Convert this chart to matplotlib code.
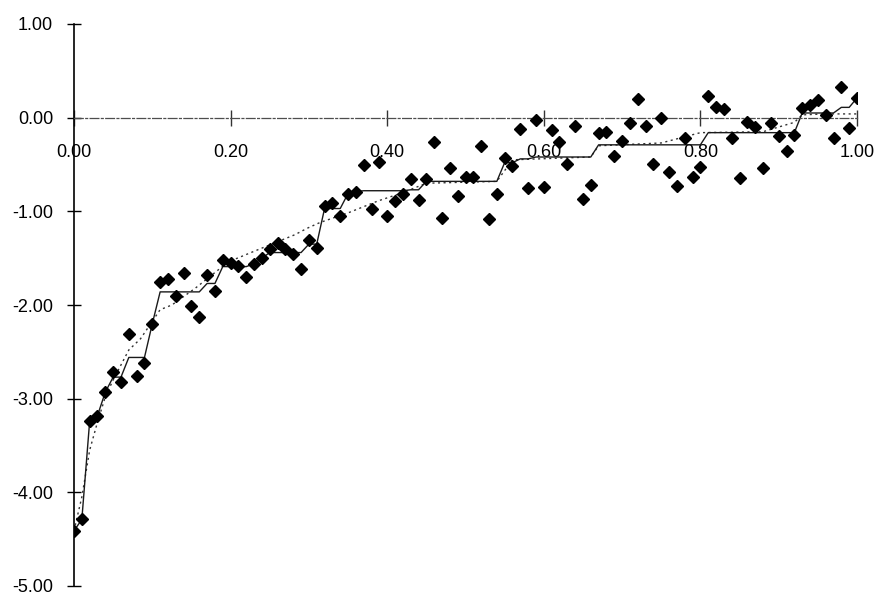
import numpy as np
import matplotlib.pyplot as plt

plt.rcParams['font.family'] = ['Liberation Sans', 'DejaVu Sans']
plt.rcParams['axes.unicode_minus'] = False

# observations on a 0.01 grid from 0 to 1
x = np.arange(101) / 100
y_obs = [-4.41, -4.29, -3.24, -3.18, -2.93, -2.71, -2.82, -2.31, -2.76, -2.62,
         -2.20, -1.75, -1.72, -1.90, -1.66, -2.01, -2.13, -1.68, -1.85, -1.52,
         -1.55, -1.58, -1.70, -1.56, -1.50, -1.40, -1.34, -1.40, -1.46, -1.62,
         -1.31, -1.39, -0.94, -0.91, -1.05, -0.81, -0.79, -0.51, -0.97, -0.47,
         -1.05, -0.89, -0.82, -0.65, -0.88, -0.66, -0.26, -1.07, -0.54, -0.84,
         -0.63, -0.63, -0.30, -1.08, -0.82, -0.43, -0.52, -0.12, -0.75, -0.03,
         -0.74, -0.13, -0.26, -0.49, -0.09, -0.87, -0.72, -0.16, -0.15, -0.41,
         -0.25, -0.06, 0.20, -0.09, -0.49, -0.00, -0.58, -0.73, -0.22, -0.63,
         -0.53, 0.23, 0.11, 0.09, -0.22, -0.64, -0.05, -0.10, -0.54, -0.06,
         -0.20, -0.36, -0.18, 0.10, 0.14, 0.19, 0.03, -0.22, 0.33, -0.11,
         0.21]

# monotone step fit: index where each block starts and the block level
fit_start = [0, 1, 2, 3, 4, 5, 7, 10, 11, 17, 19, 23, 24, 25, 30, 32, 35, 36,
             37, 43, 45, 55, 57, 59, 67, 81, 93, 98, 100]
fit_level = [-4.41, -4.29, -3.24, -3.18, -2.93, -2.77, -2.56, -2.20, -1.86,
             -1.77, -1.59, -1.56, -1.50, -1.44, -1.35, -0.97, -0.81, -0.79,
             -0.78, -0.77, -0.68, -0.48, -0.44, -0.42, -0.29, -0.16, 0.05,
             0.11, 0.21]

# smoother curve
smooth_x = [0.00, 0.01, 0.02, 0.03, 0.04, 0.05, 0.07, 0.085, 0.11, 0.125,
            0.155, 0.197, 0.229, 0.282, 0.298, 0.314, 0.352, 0.388, 0.42,
            0.45, 0.54, 0.56, 0.66, 0.67, 0.75, 0.80, 0.88, 0.92, 0.93, 0.96,
            1.00]
smooth_y = [-4.41, -4.05, -3.55, -3.25, -2.98, -2.80, -2.48, -2.36, -2.05,
            -2.00, -1.82, -1.54, -1.43, -1.25, -1.18, -1.12, -1.01, -0.89,
            -0.80, -0.70, -0.68, -0.45, -0.42, -0.30, -0.27, -0.16, -0.15,
            -0.05, 0.03, 0.04, 0.04]

x_ticks = [0.0, 0.2, 0.4, 0.6, 0.8, 1.0]
y_ticks = [1, 0, -1, -2, -3, -4, -5]

counts = np.diff(fit_start + [len(x)])
y_fit = np.repeat(fit_level, counts)

fig = plt.figure(figsize=(8.77, 5.96), dpi=100)
ax = fig.add_axes([74 / 877, 10 / 596, 783 / 877, 562 / 596])

ax.plot(smooth_x, smooth_y, color='0.2', lw=1.0, linestyle=(0, (1.5, 2.5)), zorder=2)
ax.plot(x, y_fit, color='0.1', lw=1.0, zorder=2)
ax.plot(x, y_obs, 'D', color='black', ms=6.5, zorder=3)

ax.set_xlim(0, 1)
ax.set_ylim(-5, 1)

ax.spines['top'].set_visible(False)
ax.spines['right'].set_visible(False)
ax.spines['left'].set_position(('data', 0))
ax.spines['bottom'].set_position(('data', 0))
ax.spines['left'].set_linewidth(1.2)
ax.spines['bottom'].set_color('0.3')
ax.spines['bottom'].set_linewidth(0.9)
ax.spines['bottom'].set_linestyle((0, (7, 2, 1.5, 2)))

ax.set_xticks(x_ticks)
ax.set_xticklabels([f'{v:.2f}' for v in x_ticks])
ax.set_yticks(y_ticks)
ax.set_yticklabels([f'{v:.2f}' for v in y_ticks])

ax.tick_params(axis='x', direction='inout', length=12, width=1.0, pad=13,
               labelsize=13, color='0.2')
ax.tick_params(axis='y', direction='inout', length=10, width=1.0, pad=10,
               labelsize=13)

fig.savefig('out.png', dpi=100)
